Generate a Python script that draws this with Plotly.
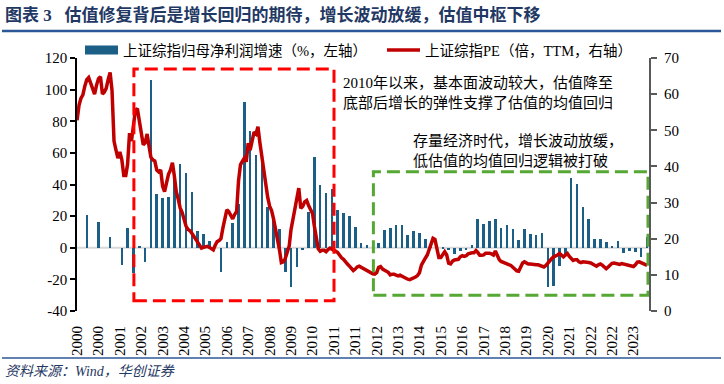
import pandas as pd
import plotly.graph_objects as go

# ---------------- data ----------------
bar_months = [
    "2000-06", "2000-12", "2001-06", "2001-12",
    "2002-03", "2002-06", "2002-09", "2002-12",
    "2003-03", "2003-06", "2003-09", "2003-12",
    "2004-03", "2004-06", "2004-09", "2004-12",
    "2005-03", "2005-06", "2005-09", "2005-12",
    "2006-03", "2006-06", "2006-09", "2006-12",
    "2007-03", "2007-06", "2007-09", "2007-12",
    "2008-03", "2008-06", "2008-09", "2008-12",
    "2009-03", "2009-06", "2009-09", "2009-12",
    "2010-03", "2010-06", "2010-09", "2010-12",
    "2011-03", "2011-06", "2011-09", "2011-12",
    "2012-03", "2012-06", "2012-09", "2012-12",
    "2013-03", "2013-06", "2013-09", "2013-12",
    "2014-03", "2014-06", "2014-09", "2014-12",
    "2015-03", "2015-06", "2015-09", "2015-12",
    "2016-03", "2016-06", "2016-09", "2016-12",
    "2017-03", "2017-06", "2017-09", "2017-12",
    "2018-03", "2018-06", "2018-09", "2018-12",
    "2019-03", "2019-06", "2019-09", "2019-12",
    "2020-03", "2020-06", "2020-09", "2020-12",
    "2021-03", "2021-06", "2021-09", "2021-12",
    "2022-03", "2022-06", "2022-09", "2022-12",
    "2023-03", "2023-06", "2023-09", "2023-12",
    "2024-03", "2024-06",
]
profit_growth = [
    20.4, 16.0, 6.5, -11.0,
    12.8, -16.0, 1.0, -9.0,
    106.0, 34.0, 31.4, 32.0,
    43.6, 53.0, 47.0, 35.0,
    10.3, 8.6, 4.4, 0.8,
    -15.4, 3.6, 15.6, 27.6,
    92.4, 74.0, 58.5, 57.5,
    26.0, 18.5, 12.0, -15.5,
    -24.6, -12.4, -1.7, 22.5,
    57.5, 39.5, 34.5, 37.0,
    24.0, 22.0, 20.0, 13.0,
    3.0, 1.8, 1.0, 3.0,
    11.5, 12.2, 14.5, 14.3,
    8.2, 10.6, 9.2, 5.7,
    1.8, 0.6, -0.8, -1.7,
    -4.2, -2.1, -1.7, 1.6,
    18.5, 15.3, 17.0, 18.3,
    12.4, 14.2, 11.7, 4.8,
    12.0, 9.0, 8.3, 9.5,
    -25.0, -24.0, -11.5, -5.5,
    44.3, 40.2, 25.6, 18.0,
    5.8, 5.4, 3.7, 1.4,
    4.2, -3.5, -2.2, -2.7,
    -5.6, 6.5,
]

pe_start = "2000-01-01"
pe_values = [
    # 2000
    52.8, 57.0, 58.8, 59.8, 62.2, 64.0, 64.6, 63.0, 61.0, 60.0, 62.5, 64.3,
    # 2001
    64.8, 60.0, 60.5, 61.6, 64.0, 66.0, 61.0, 47.0, 44.5, 42.3, 44.0, 41.9,
    # 2002
    37.5, 37.5, 40.5, 49.2, 47.0, 51.0, 55.5, 56.0, 53.0, 50.0, 46.0, 46.5,
    # 2003
    49.0, 45.5, 42.5, 41.8, 41.5, 39.0, 38.5, 39.0, 34.5, 33.0, 36.0, 37.8,
    # 2004
    39.0, 41.0, 37.5, 33.0, 31.0, 28.5, 27.3, 25.0, 23.5, 22.6, 22.2, 21.5,
    # 2005
    20.6, 20.0, 19.0, 18.0, 17.4, 17.6, 17.8, 17.9, 17.6, 17.2, 16.9, 18.2,
    # 2006
    19.2, 19.5, 20.0, 23.0, 25.8, 28.0, 27.5, 26.5, 25.5, 26.7, 27.5, 36.0,
    # 2007
    40.5, 41.5, 42.3, 41.3, 46.4, 44.5, 47.5, 49.5, 49.0, 51.0, 46.5, 42.5,
    # 2008
    38.5, 35.5, 31.5, 29.0, 27.8, 25.5, 23.0, 20.5, 17.0, 13.4, 13.6, 14.5,
    # 2009
    16.0, 18.0, 22.5, 25.5, 28.0, 31.5, 34.0, 28.4, 29.0, 30.2, 30.6, 29.2,
    # 2010
    27.9, 27.0, 23.5, 19.5, 17.2, 16.5, 16.8, 16.8, 16.4, 17.0, 17.4, 17.1,
    # 2011
    16.9, 16.5, 16.2, 15.3, 14.7, 14.3, 13.5, 13.0, 12.4, 11.8, 11.2, 11.6,
    # 2012
    12.2, 12.4, 12.1, 11.9, 11.6, 11.3, 10.8, 10.5, 10.3, 10.2, 10.6, 12.1,
    # 2013
    12.3, 11.6, 11.2, 11.0, 10.7, 10.0, 10.2, 10.2, 9.9, 9.7, 9.9, 9.6,
    # 2014
    9.3, 9.1, 8.8, 8.7, 8.9, 9.1, 9.4, 9.8, 10.6, 12.7, 13.9, 14.6,
    # 2015
    15.5, 17.0, 19.0, 20.1, 19.8, 17.5, 14.8, 14.8, 15.8, 16.4, 15.5, 13.2,
    # 2016
    13.0, 13.8, 14.1, 14.2, 14.3, 15.0, 15.3, 15.1, 15.3, 15.8, 16.0, 16.1,
    # 2017
    16.1, 16.7, 16.2, 15.4, 15.4, 15.5, 16.0, 16.1, 16.0, 15.8, 15.5, 16.6,
    # 2018
    15.2, 14.2, 13.7, 13.5, 13.3, 12.9, 12.7, 12.6, 12.1, 11.6, 11.1, 11.0,
    # 2019
    12.5, 13.3, 13.6, 13.3, 13.0, 13.0, 12.9, 12.7, 12.8, 12.8, 12.6, 12.5,
    # 2020
    12.2, 12.6, 13.3, 14.0, 14.5, 15.0, 15.2, 15.5, 15.9, 15.4, 15.0, 15.5,
    # 2021
    15.9, 15.1, 14.5, 14.0, 14.2, 14.2, 13.6, 13.4, 13.6, 13.6, 13.4, 13.4,
    # 2022
    13.3, 12.9, 12.7, 12.4, 12.8, 13.0, 12.7, 12.3, 11.7, 12.2, 12.8, 13.2,
    # 2023
    13.3, 13.2, 13.1, 12.9, 13.1, 13.0, 12.8, 12.7, 12.5, 12.4, 12.3, 12.8,
    # 2024
    13.5, 13.6, 13.4, 13.1, 12.8, 12.6,
]
pe_months = pd.date_range(pe_start, periods=len(pe_values), freq="MS")

tick_dates = [
    "2000-01-01", "2000-12-01", "2001-11-01", "2002-10-01", "2003-09-01",
    "2004-08-01", "2005-07-01", "2006-06-01", "2007-05-01", "2008-04-01",
    "2009-03-01", "2010-02-01", "2011-01-01", "2011-12-01", "2012-11-01",
    "2013-10-01", "2014-09-01", "2015-08-01", "2016-07-01", "2017-06-01",
    "2018-05-01", "2019-04-01", "2020-03-01", "2021-02-01", "2022-01-01",
    "2022-12-01", "2023-11-01",
]
tick_labels = [
    "2000", "2000", "2001", "2002", "2003", "2004", "2005", "2006", "2007",
    "2008", "2009", "2010", "2011", "2011", "2012", "2013", "2014", "2015",
    "2016", "2017", "2018", "2019", "2020", "2021", "2022", "2022", "2023",
]
left_tick_vals = [-40, -20, 0, 20, 40, 60, 80, 100, 120]
left_tick_text = ["-40", "-20", "0", "20", "40", "60", "80", "100", "120"]
right_tick_vals = [0, 10, 20, 30, 40, 50, 60, 70]

bar_name = "上证综指归母净利润增速（%，左轴）"
line_name = "上证综指PE（倍，TTM，右轴）"
title_text = "图表 3\u00a0\u00a0\u00a0估值修复背后是增长回归的期待，增长波动放缓，估值中枢下移"
source_text = "资料来源：Wind，华创证券"
note1 = "2010年以来，基本面波动较大，估值降至<br>底部后增长的弹性支撑了估值的均值回归"
note2 = "存量经济时代，增长波动放缓，<br>低估值的均值回归逻辑被打破"

# ---------------- style ----------------
W, H = 724, 384
L, R, T, B = 77, 75, 58, 73
PW, PH = W - L - R, H - T - B
BAR_COLOR = "#1B5F86"
LINE_COLOR = "#C00000"
NAVY = "#1F3864"
RULE = "#2B5797"
FONT = "Liberation Serif, Noto Sans CJK SC, serif"


def px(xp):
    return (xp - L) / PW


def py(yp):
    return (H - B - yp) / PH


bar_dates = [pd.Timestamp(m + "-01") for m in bar_months]

fig = go.Figure()
fig.add_trace(go.Bar(
    x=bar_dates, y=profit_growth, name=bar_name,
    marker=dict(color=BAR_COLOR, line=dict(width=0)),
    width=40 * 86400000, showlegend=False, yaxis="y",
))
# legend proxy for the bar series (wide rectangle symbol)
fig.add_trace(go.Scatter(
    x=[None], y=[None], mode="lines", name=bar_name,
    line=dict(color=BAR_COLOR, width=9), yaxis="y", legend="legend",
))
fig.add_trace(go.Scatter(
    x=pe_months, y=pe_values, mode="lines", name=line_name,
    line=dict(color=LINE_COLOR, width=3.5), yaxis="y2", legend="legend2",
))

shapes = [
    dict(type="line", xref="paper", x0=0, x1=1, yref="y", y0=0, y1=0,
         line=dict(color="#D9D9D9", width=2), layer="below"),
    dict(type="rect", xref="x", yref="y", x0="2002-06-08", x1="2011-01-03",
         y0=-33.5, y1=113, line=dict(color="#FF0000", width=3, dash="13px,6px"),
         layer="above"),
    dict(type="rect", xref="x", yref="y", x0="2012-09-10", x1="2024-06-15",
         y0=-30, y1=48, line=dict(color="#55A833", width=3, dash="13px,6px"),
         layer="above"),
    dict(type="line", xref="paper", yref="paper", x0=px(2), x1=px(721),
         y0=py(31), y1=py(31), line=dict(color=RULE, width=2.5)),
    dict(type="line", xref="paper", yref="paper", x0=px(2), x1=px(721),
         y0=py(358), y1=py(358), line=dict(color=RULE, width=1.5)),
]

annotations = [
    dict(xref="paper", yref="paper", x=px(3), y=py(15), xanchor="left",
         yanchor="middle", showarrow=False, text="<b>" + title_text + "</b>",
         font=dict(family=FONT, size=17, color=NAVY)),
    dict(xref="paper", yref="paper", x=px(3), y=py(371), xanchor="left",
         yanchor="middle", showarrow=False, text="<i>" + source_text + "</i>",
         font=dict(family=FONT, size=14, color=NAVY)),
    dict(xref="paper", yref="paper", x=px(341), y=py(92), xanchor="left",
         yanchor="middle", showarrow=False, text=note1, align="left",
         font=dict(family=FONT, size=15, color="#000000")),
    dict(xref="paper", yref="paper", x=px(411), y=py(150.5), xanchor="left",
         yanchor="middle", showarrow=False, text=note2, align="left",
         font=dict(family=FONT, size=15, color="#000000")),
]

legend_common = dict(orientation="h", xanchor="left", yanchor="middle",
                     font=dict(family=FONT, size=14.5),
                     bgcolor="rgba(0,0,0,0)", itemwidth=33)

fig.update_layout(
    width=W, height=H,
    margin=dict(l=L, r=R, t=T, b=B, pad=0, autoexpand=False),
    paper_bgcolor="white", plot_bgcolor="white",
    font=dict(family=FONT, size=14, color="#000000"),
    bargap=0,
    showlegend=True,
    legend=dict(x=px(80), y=py(50), **legend_common),
    legend2=dict(x=px(382), y=py(50), **legend_common),
    xaxis=dict(type="date", range=["1999-12-31", "2024-07-01"],
               tickmode="array", tickvals=tick_dates, ticktext=tick_labels,
               tickangle=-90, showgrid=False, showline=False, zeroline=False,
               ticks="", ticklabelstandoff=11,
               tickfont=dict(family=FONT, size=15, color="#000000")),
    yaxis=dict(range=[-40, 120], tickmode="array", tickvals=left_tick_vals,
               ticktext=left_tick_text, showgrid=False, zeroline=False,
               showline=True, linecolor="#000000", linewidth=1.5,
               ticks="outside", ticklen=5, tickcolor="#000000", tickwidth=1.5,
               tickfont=dict(family=FONT, size=15, color="#000000")),
    yaxis2=dict(range=[0, 70], tickmode="array", tickvals=right_tick_vals,
                overlaying="y", side="right", showgrid=False, zeroline=False,
                showline=True, linecolor="#595959", linewidth=2,
                ticks="outside", ticklen=6, tickcolor="#595959", tickwidth=1.5,
                ticklabelstandoff=4,
                tickfont=dict(family=FONT, size=15, color="#000000")),
    shapes=shapes,
    annotations=annotations,
)

fig.write_html(
    "out.html",
    config={"displayModeBar": False},
    post_script="document.body.style.margin='0';document.body.style.padding='0';",
)
